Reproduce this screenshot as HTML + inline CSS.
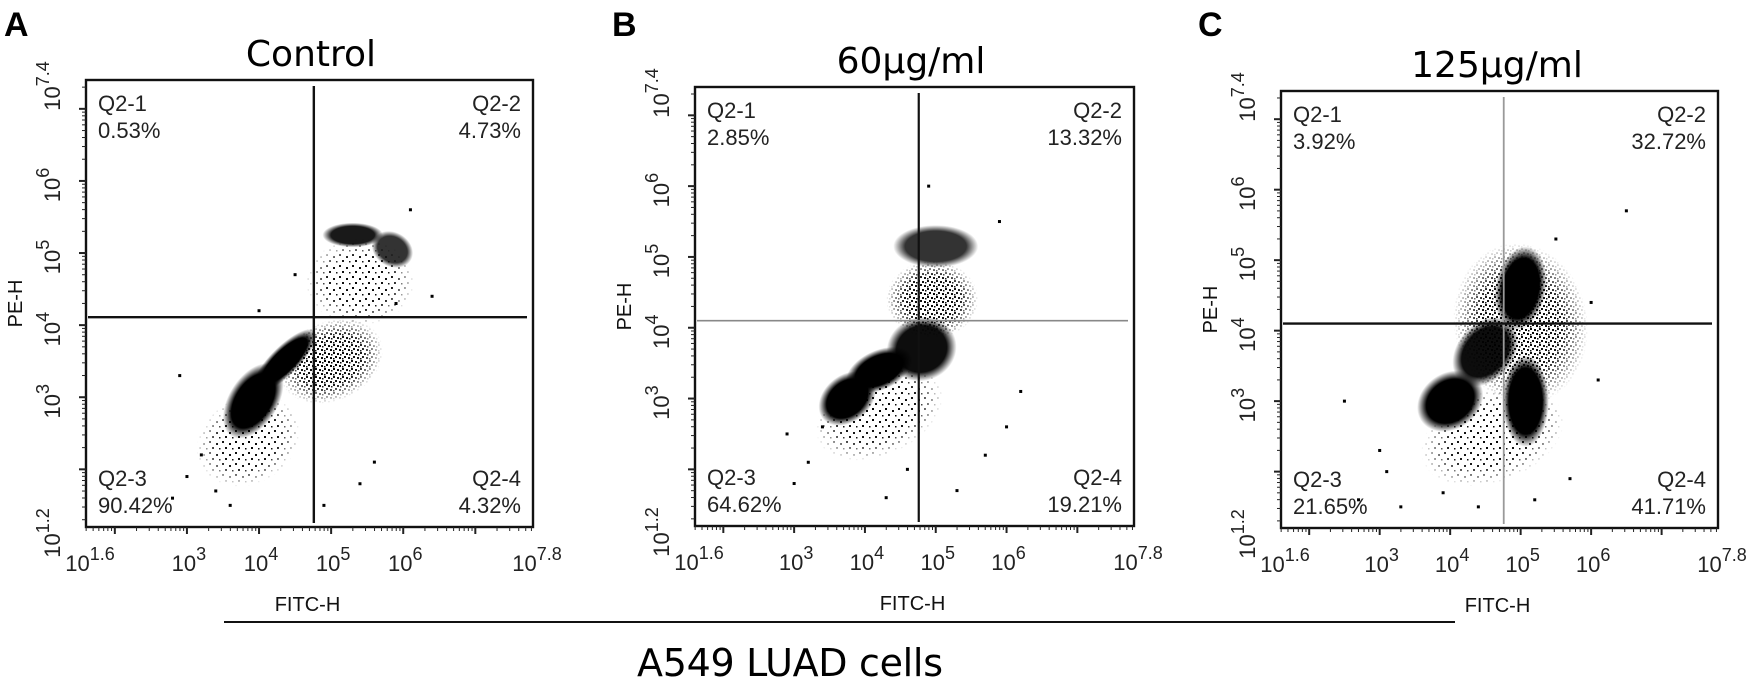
<!DOCTYPE html>
<html><head><meta charset="utf-8">
<style>
html,body{margin:0;padding:0;background:#fff;}
svg{display:block;}
text{font-family:"Liberation Sans",Arial,sans-serif;}
</style></head>
<body>
<svg id="fig" width="1748" height="683" viewBox="0 0 1748 683" xmlns="http://www.w3.org/2000/svg">
<defs>
<radialGradient id="soft" cx="50%" cy="50%" r="50%">
<stop offset="0" stop-color="#000" stop-opacity="1"/>
<stop offset="0.72" stop-color="#000" stop-opacity="1"/>
<stop offset="1" stop-color="#000" stop-opacity="0"/>
</radialGradient>
<radialGradient id="softw" cx="50%" cy="50%" r="50%">
<stop offset="0" stop-color="#fff" stop-opacity="1"/>
<stop offset="0.6" stop-color="#fff" stop-opacity="0.9"/>
<stop offset="1" stop-color="#fff" stop-opacity="0"/>
</radialGradient>
<pattern id="speckDense" width="9" height="8" patternUnits="userSpaceOnUse">
<rect x="0" y="0" width="2" height="2" fill="#000"/><rect x="4" y="1" width="2" height="2" fill="#000"/>
<rect x="2" y="4" width="2" height="2" fill="#000"/><rect x="6" y="5" width="2" height="2" fill="#000"/>
<rect x="7" y="2" width="1.5" height="1.5" fill="#000"/><rect x="0" y="6" width="1.5" height="1.5" fill="#000"/>
</pattern>
<pattern id="speckSparse" width="13" height="11" patternUnits="userSpaceOnUse">
<rect x="1" y="1" width="2" height="2" fill="#000"/><rect x="8" y="3" width="2" height="2" fill="#000"/>
<rect x="4" y="7" width="2" height="2" fill="#000"/><rect x="11" y="8" width="1.5" height="1.5" fill="#000"/>
</pattern>
</defs>
<text x="4" y="36" font-size="34" font-weight="bold">A</text>
<text x="612" y="36" font-size="34" font-weight="bold">B</text>
<text x="1198" y="36" font-size="34" font-weight="bold">C</text>
<line x1="224" y1="622" x2="1455" y2="622" stroke="#111" stroke-width="2"/>
<text x="790" y="676" font-size="38" text-anchor="middle" style="font-family:'DejaVu Sans','Liberation Sans',sans-serif" textLength="306">A549 LUAD cells</text>
</svg>
<script>
// ---- data ----
const panelTitles = ["Control", "60µg/ml", "125µg/ml"];
const quadLabels = ["Q2-1", "Q2-2", "Q2-3", "Q2-4"];
const pctA = ["0.53%", "4.73%", "90.42%", "4.32%"];
const pctB = ["2.85%", "13.32%", "64.62%", "19.21%"];
const pctC = ["3.92%", "32.72%", "21.65%", "41.71%"];
const gateX = [4.76, 4.76, 4.76];
const gateY = [4.11, 4.1, 4.1];
const xTickExps = ["1.6", "3", "4", "5", "6", "7.8"];
const yTickExps = ["1.2", "3", "4", "5", "6", "7.4"];
// clusters: [log cx, log cy, log rx, log ry, angle deg, density]
const clustersA = [
 [3.92,2.95,0.58,0.34,58,1],[4.35,3.5,0.6,0.2,45,1],[5.0,3.5,0.75,0.55,25,0.4],
 [5.3,5.25,0.42,0.17,0,0.9],[5.85,5.05,0.3,0.24,-30,0.8],[5.4,4.6,0.75,0.6,0,0.25],[3.85,2.4,0.75,0.6,30,0.3]];
const clustersB = [
 [3.75,3.0,0.45,0.33,40,1],[4.2,3.4,0.5,0.28,25,1],[4.8,3.7,0.5,0.45,20,0.95],
 [5.0,5.15,0.6,0.3,0,0.8],[4.95,4.4,0.65,0.55,0,0.45],[4.2,2.8,0.95,0.6,25,0.3]];
const clustersC = [
 [4.0,3.0,0.5,0.4,35,1],[5.07,3.0,0.33,0.65,0,1],[5.0,4.6,0.36,0.6,-10,1],
 [4.5,3.7,0.55,0.4,50,0.95],[5.0,4.1,0.95,1.15,10,0.55],[4.6,2.5,1.05,0.65,20,0.35]];
const outliersA = [[2.9,3.3],[3.2,2.2],[3.4,1.7],[3.6,1.5],[6.4,4.4],[6.1,5.6],[5.4,1.8],[5.6,2.1],[2.8,1.6],[4.5,4.7],[3.0,1.9],[4.9,1.5],[5.9,4.3],[4.0,4.2]];
const outliersB = [[3.2,2.1],[3.0,1.8],[5.3,1.7],[6.2,3.1],[5.7,2.2],[5.9,5.5],[3.4,2.6],[4.9,6.0],[4.3,1.6],[2.9,2.5],[6.0,2.6],[4.6,2.0]];
const outliersC = [[2.5,3.0],[2.7,1.6],[3.1,2.0],[3.3,1.5],[6.5,5.7],[6.0,4.4],[5.7,1.9],[3.9,1.7],[4.4,1.5],[5.5,5.3],[3.0,2.3],[6.1,3.3],[5.2,1.6]];

const panels = [
 {id:"a", L:86, R:533, T:80, B:527, title:panelTitles[0], pct:pctA, cl:clustersA, out:outliersA, g:0, tcx:311, vcol:"#111", hcol:"#111", vw:2.4, hw:2.4},
 {id:"b", L:695, R:1134, T:87, B:526, title:panelTitles[1], pct:pctB, cl:clustersB, out:outliersB, g:1, tcx:911, vcol:"#111", hcol:"#888", vw:2.2, hw:1.6},
 {id:"c", L:1281, R:1718, T:91, B:528, title:panelTitles[2], pct:pctC, cl:clustersC, out:outliersC, g:2, tcx:1497, vcol:"#999", hcol:"#111", vw:1.8, hw:2.4}
];
const NS = "http://www.w3.org/2000/svg";
const svg = document.getElementById("fig");
const defs = svg.querySelector("defs");
function mk(tag, attrs, parent){const e=document.createElementNS(NS,tag);for(const k in attrs)e.setAttribute(k,attrs[k]);(parent||svg).appendChild(e);return e;}
let mid=0;
panels.forEach(p=>{
 const g = mk("g",{});
 
 
 const sx = v => p.L + (v-1.6)/6.2*(p.R-p.L);
 const sy = v => p.B - (v-1.2)/6.2*(p.B-p.T);
 const dx = (p.R-p.L)/6.2, dy=(p.B-p.T)/6.2;
 // clusters: diffuse ones as speckle, dense ones solid
 const sorted = p.cl.slice().sort((a,b)=>a[5]-b[5]);
 sorted.forEach(c=>{
  const cx=sx(c[0]), cy=sy(c[1]), rx=c[2]*dx, ry=c[3]*dy, tr=`rotate(${-c[4]} ${cx} ${cy})`;
  let e;
  if(c[5] < 0.7){
   const id="m"+(mid++);
   const m = mk("mask",{id:id,maskUnits:"userSpaceOnUse",x:0,y:0,width:1748,height:683},defs);
   mk("ellipse",{cx:cx,cy:cy,rx:rx,ry:ry,fill:"url(#softw)",transform:tr},m);
   e = mk("rect",{x:p.L,y:p.T,width:p.R-p.L,height:p.B-p.T,fill:c[5]>0.38?"url(#speckDense)":"url(#speckSparse)",mask:`url(#${id})`},g);
  } else {
   e = mk("ellipse",{cx:cx,cy:cy,rx:rx,ry:ry,fill:"url(#soft)","fill-opacity":c[5],transform:tr},g);
  }
  
  
 });
 p.out.forEach(o=>{
  const r = mk("rect",{x:sx(o[0])-1.5,y:sy(o[1])-1.5,width:3,height:3,fill:"#000"},g);
  
  
 });
 const fr = mk("rect",{x:p.L,y:p.T,width:p.R-p.L,height:p.B-p.T,fill:"none",stroke:"#111","stroke-width":2.4},g);
 
 
 const vl = mk("line",{x1:sx(gateX[p.g]),x2:sx(gateX[p.g]),y1:p.T+6,y2:p.B-4,stroke:p.vcol,"stroke-width":p.vw},g);
 
 
 const hl = mk("line",{x1:p.L+2,x2:p.R-6,y1:sy(gateY[p.g]),y2:sy(gateY[p.g]),stroke:p.hcol,"stroke-width":p.hw},g);
 
 
 for(let d=1; d<=7; d++){
  for(let k=1;k<=9;k++){
   const v = d+Math.log10(k);
   if(v<1.6||v>7.8) continue;
   const major = k===1;
   const t = mk("line",{x1:sx(v),x2:sx(v),y1:p.B,y2:p.B+(major?7:4),stroke:"#222","stroke-width":major?2:1},g);
   
   
  }
  for(let k=1;k<=9;k++){
   const v = d+Math.log10(k);
   if(v<1.2||v>7.4) continue;
   const major = k===1;
   const t = mk("line",{y1:sy(v),y2:sy(v),x1:p.L,x2:p.L-(major?7:4),stroke:"#222","stroke-width":major?2:1},g);
   
   
  }
 }
 xTickExps.forEach(ex=>{
  const v=parseFloat(ex);
  const t = mk("text",{x:sx(v)+(ex.length>1?4:2),y:p.B+44,"font-size":22,"text-anchor":"middle",fill:"#222"},g);
  
  
  t.innerHTML = `10<tspan dy="-11" font-size="18">${ex}</tspan>`;
 });
 yTickExps.forEach(ex=>{
  const v=parseFloat(ex);
  const x=p.L-26, y=sy(v)+(ex.length>1?6:4);
  const t = mk("text",{x:x,y:y,"font-size":22,"text-anchor":"middle",fill:"#222",transform:`rotate(-90 ${x} ${y})`},g);
  
  
  t.innerHTML = `10<tspan dy="-11" font-size="18">${ex}</tspan>`;
 });
 const xt = mk("text",{x:(p.L+p.R)/2-2,y:p.B+84,"font-size":20,"text-anchor":"middle",fill:"#111"},g);
 
 
 xt.textContent="FITC-H";
 const yx=p.L-64, yy=(p.T+p.B)/2;
 const yt = mk("text",{x:yx,y:yy,"font-size":20,"text-anchor":"middle",fill:"#111",transform:`rotate(-90 ${yx} ${yy})`},g);
 
 
 yt.textContent="PE-H";
 const tt = mk("text",{x:p.tcx,y:p.T-14,"font-size":36,"text-anchor":"middle",fill:"#000",style:"font-family:'DejaVu Sans','Liberation Sans',sans-serif"},g);
 
 
 tt.textContent=p.title;
 const pos=[[p.L+12,p.T+31,"start"],[p.R-12,p.T+31,"end"],[p.L+12,p.B-41,"start"],[p.R-12,p.B-41,"end"]];
 quadLabels.forEach((q,i)=>{
  const a = mk("text",{x:pos[i][0],y:pos[i][1],"font-size":22,"text-anchor":pos[i][2],fill:"#222"},g);
  
  
  a.textContent=q;
  const b = mk("text",{x:pos[i][0],y:pos[i][1]+27,"font-size":22,"text-anchor":pos[i][2],fill:"#222"},g);
  
  
  b.textContent=p.pct[i];
 });
});
</script>
</body></html>
